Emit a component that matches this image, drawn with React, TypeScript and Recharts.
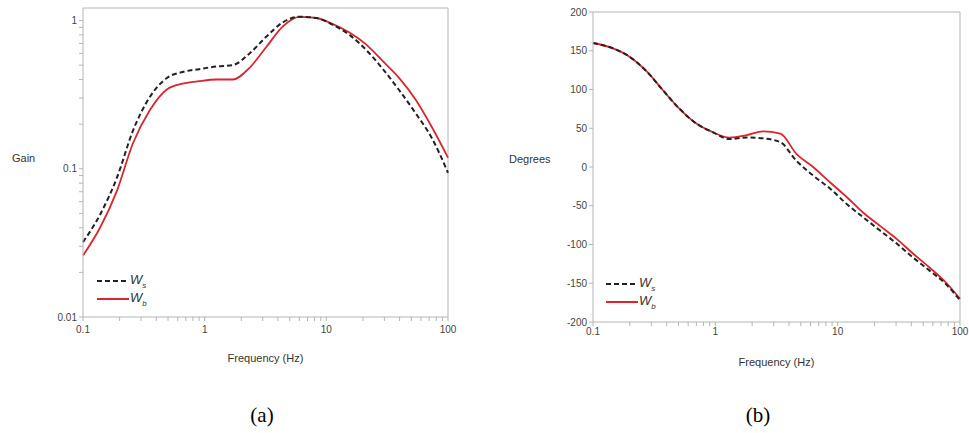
import React from 'react';
import { LineChart, Line, XAxis, YAxis, ReferenceLine, Label } from 'recharts';

// frequency response, two estimates (Ws dashed, Wb solid red)
const gainFreq = [0.1, 0.138, 0.19, 0.257, 0.354, 0.489, 0.66, 0.9, 1.25, 1.7, 2.34, 3.22, 4.37, 6.0, 8.3, 11.2, 15.5, 21.2, 28.6, 39.6, 54.6, 74, 100];
const gainWs = [0.032, 0.049, 0.087, 0.18, 0.305, 0.41, 0.45, 0.47, 0.49, 0.5, 0.6, 0.78, 0.97, 1.06, 1.04, 0.94, 0.8, 0.635, 0.48, 0.34, 0.235, 0.16, 0.094];
const gainWb = [0.026, 0.04, 0.071, 0.148, 0.248, 0.343, 0.375, 0.39, 0.4, 0.4, 0.48, 0.665, 0.91, 1.06, 1.04, 0.95, 0.83, 0.69, 0.54, 0.41, 0.29, 0.19, 0.119];

const phaseFreq = [0.1, 0.146, 0.2, 0.276, 0.373, 0.51, 0.7, 0.95, 1.3, 1.8, 2.45, 3.4, 4.6, 6.3, 8.7, 11.9, 16.2, 22.2, 30.5, 41.5, 56.7, 77.7, 100];
const phaseWs = [160, 153, 142, 123, 99, 75, 56, 45, 36, 38, 37, 32, 8, -11, -28, -48, -65, -82, -99, -117, -134, -152, -172];
const phaseWb = [160, 153, 142, 123, 99, 75, 56, 45, 38, 41, 46, 43, 17, 0, -20, -39, -59, -76, -93, -112, -130, -150, -170];

const freqTicks = [0.1, 0.2, 0.3, 0.4, 0.5, 0.6, 0.7, 0.8, 0.9, 1, 2, 3, 4, 5, 6, 7, 8, 9, 10, 20, 30, 40, 50, 60, 70, 80, 90, 100];
const freqLabels = [0.1, 1, 10, 100];
const gainTicks = [0.01, 0.02, 0.03, 0.04, 0.05, 0.06, 0.07, 0.08, 0.09, 0.1, 0.2, 0.3, 0.4, 0.5, 0.6, 0.7, 0.8, 0.9, 1];
const gainLabels = [0.01, 0.1, 1];
const phaseTicks = [-200, -150, -100, -50, 0, 50, 100, 150, 200];

const legendItems = [
  { name: 'W', sub: 's', dashed: true },
  { name: 'W', sub: 'b', dashed: false },
];

const RED = '#d9262f';
const DARK = '#222';
const FRAME = '#b5b5b5';
const tickStyle = { fontSize: 10, fill: '#444', fontFamily: 'Liberation Sans, Arial, sans-serif' };
const labelStyle = { fontSize: 11, fill: '#333', fontFamily: 'Liberation Sans, Arial, sans-serif' };

const gainData = gainFreq.map((f, i) => ({ f, ws: gainWs[i], wb: gainWb[i] }));
const phaseData = phaseFreq.map((f, i) => ({ f, ws: phaseWs[i], wb: phaseWb[i] }));

const fmt = (labels: number[]) => (v: number) => (labels.some(l => Math.abs(l - v) < 1e-9) ? String(v) : '');

const LegendBox = ({ left, top }: { left: number; top: number }) => (
  <div style={{ position: 'absolute', left, top, fontFamily: 'Liberation Sans, Arial, sans-serif' }}>
    {legendItems.map((it, i) => (
      <div key={i} style={{ display: 'flex', alignItems: 'center', height: 18 }}>
        <svg width={32} height={6}>
          <line x1={0} y1={3} x2={32} y2={3} stroke={it.dashed ? DARK : RED} strokeWidth={2}
            strokeDasharray={it.dashed ? '5 3' : undefined} />
        </svg>
        <span style={{ fontStyle: 'italic', fontSize: 13, color: '#333', marginLeft: 1 }}>
          {it.name}<sub style={{ fontSize: 8 }}>{it.sub}</sub>
        </span>
      </div>
    ))}
  </div>
);

const GainChart = () => (
  <LineChart width={480} height={365} data={gainData} margin={{ top: 8, right: 32, left: 5, bottom: 0 }}>
    <XAxis dataKey="f" type="number" scale="log" domain={[0.1, 100]} ticks={freqTicks}
      tickFormatter={fmt(freqLabels)} tick={tickStyle} tickSize={4} tickMargin={5}
      stroke={FRAME} height={48} interval={0}>
      <Label value="Frequency (Hz)" position="insideBottom" offset={3} style={labelStyle} />
    </XAxis>
    <YAxis type="number" scale="log" domain={[0.01, 1.215]} ticks={gainTicks} allowDataOverflow
      tickFormatter={fmt(gainLabels)} tick={tickStyle} tickSize={4} tickMargin={2}
      stroke={FRAME} width={78} interval={0}>
      <Label value="Gain" position="insideLeft" offset={7} dy={-4} style={labelStyle} />
    </YAxis>
    <ReferenceLine x={100} stroke={FRAME} />
    <ReferenceLine y={1.215} stroke={FRAME} />
    <Line dataKey="wb" stroke={RED} strokeWidth={1.8} dot={false} type="monotone" isAnimationActive={false} />
    <Line dataKey="ws" stroke={DARK} strokeWidth={2} strokeDasharray="5 3" dot={false} type="monotone" isAnimationActive={false} />
  </LineChart>
);

const PhaseChart = () => (
  <LineChart width={489} height={370} data={phaseData} margin={{ top: 12, right: 9, left: 20, bottom: 0 }}>
    <XAxis dataKey="f" type="number" scale="log" domain={[0.1, 100]} ticks={freqTicks}
      tickFormatter={fmt(freqLabels)} tick={tickStyle} tickSize={4} tickMargin={2}
      stroke={FRAME} height={48} interval={0}>
      <Label value="Frequency (Hz)" position="insideBottom" offset={4} style={labelStyle} />
    </XAxis>
    <YAxis type="number" domain={[-200, 200]} ticks={phaseTicks} tick={tickStyle} tickSize={4} tickMargin={2}
      stroke={FRAME} width={93} interval={0}>
      <Label value="Degrees" position="insideLeft" offset={9} dy={-8} style={labelStyle} />
    </YAxis>
    <ReferenceLine x={100} stroke={FRAME} />
    <ReferenceLine y={200} stroke={FRAME} />
    <Line dataKey="wb" stroke={RED} strokeWidth={1.8} dot={false} type="monotone" isAnimationActive={false} />
    <Line dataKey="ws" stroke={DARK} strokeWidth={2} strokeDasharray="5 3" dot={false} type="monotone" isAnimationActive={false} />
  </LineChart>
);

const caption: React.CSSProperties = {
  position: 'absolute', top: 402, width: 60, textAlign: 'center',
  fontFamily: 'Liberation Serif, Times New Roman, serif', fontSize: 21, lineHeight: '26px', color: '#000',
};

export default function App() {
  return (
    <div style={{ position: 'absolute', left: 0, top: 0, width: 969, height: 433, background: '#fff' }}>
      <div style={{ position: 'absolute', left: 0, top: 0 }}>
        <GainChart />
      </div>
      <div style={{ position: 'absolute', left: 480, top: 0 }}>
        <PhaseChart />
      </div>
      <LegendBox left={97} top={272} />
      <LegendBox left={606} top={275} />
      <div style={{ ...caption, left: 232 }}>(a)</div>
      <div style={{ ...caption, left: 728 }}>(b)</div>
    </div>
  );
}
